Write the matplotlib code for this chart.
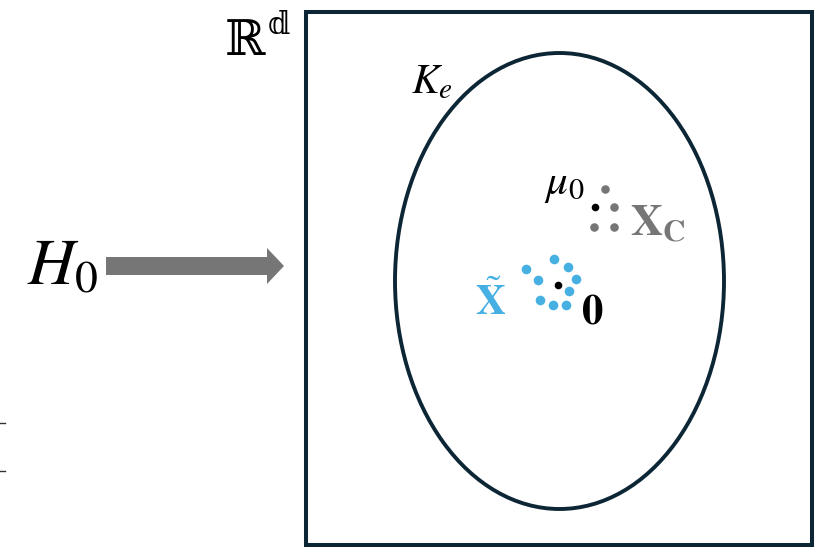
import matplotlib
matplotlib.use("Agg")
import matplotlib.pyplot as plt
from matplotlib.patches import Ellipse, Rectangle, FancyArrow

plt.rcParams["mathtext.fontset"] = "stix"
plt.rcParams["font.family"] = ["STIXGeneral", "DejaVu Serif"]

NAVY = "#0c2636"
GRAY = "#767676"
BLUE = "#47b0e2"

# sample points around the origin (blue) and around mu_0 (gray)
blue_x = [553.5, 526.0, 567.7, 537.7, 575.7, 569.2, 540.3, 552.5, 565.8]
blue_y = [259.3, 268.7, 266.7, 279.6, 279.0, 291.3, 300.0, 304.5, 305.2]
gray_x = [605.0, 614.3, 594.3, 614.3]
gray_y = [189.0, 206.7, 226.7, 226.7]
center_x = [558.3, 595.0]   # origin, mu_0
center_y = [284.6, 207.3]

# domain box and ellipse K_e
box_x0, box_y0, box_x1, box_y1 = 306, 12, 812, 545
ell_cx, ell_cy, ell_w, ell_h = 559.5, 281.0, 329.0, 456.0

fig = plt.figure(figsize=(8.18, 5.47), dpi=100)
ax = fig.add_axes([0, 0, 1, 1])
ax.set_xlim(0, 818)
ax.set_ylim(547, 0)
ax.axis("off")

ax.add_patch(Rectangle((box_x0, box_y0), box_x1 - box_x0, box_y1 - box_y0,
                       fill=False, edgecolor=NAVY, linewidth=2.9))
ax.add_patch(Ellipse((ell_cx, ell_cy), ell_w, ell_h,
                     fill=False, edgecolor=NAVY, linewidth=2.8))

ax.add_patch(FancyArrow(106, 266, 178, 0, width=18, head_width=36,
                        head_length=17, length_includes_head=True,
                        color=GRAY, linewidth=0))

ax.scatter(blue_x, blue_y, s=48, color=BLUE, linewidths=0, zorder=3)
ax.scatter(gray_x, gray_y, s=38, color=GRAY, linewidths=0, zorder=3)
ax.scatter(center_x, center_y, s=30, color="black", linewidths=0, zorder=4)

ax.text(27, 285, r"$H_0$", fontsize=47, color="black", va="baseline", ha="left")

# double-struck space label
dbl = ["DejaVu Serif", "DejaVu Sans"]
ax.text(225, 55, "\u211d", fontsize=35, color="black", va="baseline",
        ha="left", family=dbl)
ax.text(268, 34, "\U0001d555", fontsize=23, color="black", va="baseline",
        ha="left", family=dbl)

ax.text(411, 93, r"$K_e$", fontsize=30, color="black", va="baseline", ha="left")
ax.text(544, 194, r"$\mu_0$", fontsize=31, color="black", va="baseline", ha="left")
ax.text(630, 235, r"$\mathbf{X}_{\mathbf{C}}$", fontsize=32, color=GRAY,
        va="baseline", ha="left")
ax.text(475, 315, r"$\tilde{\mathbf{X}}$", fontsize=30, color=BLUE,
        va="baseline", ha="left")
ax.text(581, 323, r"$\mathbf{0}$", fontsize=31, color="black",
        va="baseline", ha="left")

# small marks at the left margin
for y in (422.7, 470.7):
    ax.plot([0, 4.5], [y, y], color="#333333", linewidth=1.0)

fig.savefig("out.png", dpi=100)
